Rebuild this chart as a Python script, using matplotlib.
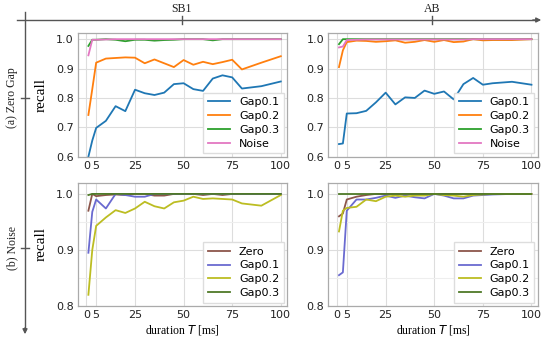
import matplotlib
matplotlib.use("Agg")
import matplotlib.pyplot as plt
from matplotlib.lines import Line2D
from matplotlib.ticker import MultipleLocator

# ---------------- data ----------------
durations = [1, 3, 5, 10, 15, 20, 25, 30, 35, 40, 45, 50, 55, 60, 65, 70, 75, 80, 90, 100]
xticks = [0, 5, 25, 50, 75, 100]
columns = ["SB1", "AB"]
rows = ["(a) Zero Gap", "(b) Noise"]

# (a) Zero Gap, SB1
sb1_zero_gap01 = [0.600, 0.655, 0.698, 0.722, 0.772, 0.755, 0.828, 0.816, 0.810, 0.818,
                  0.847, 0.850, 0.830, 0.824, 0.866, 0.877, 0.870, 0.832, 0.840, 0.856]
sb1_zero_gap02 = [0.742, 0.830, 0.920, 0.934, 0.936, 0.938, 0.937, 0.918, 0.931, 0.918,
                  0.905, 0.929, 0.913, 0.923, 0.915, 0.922, 0.930, 0.897, 0.920, 0.942]
sb1_zero_gap03 = [0.977, 0.998, 0.998, 1.000, 0.998, 0.993, 0.998, 0.998, 0.995, 0.997,
                  0.998, 1.000, 1.000, 1.000, 0.996, 1.000, 1.000, 1.000, 1.000, 1.000]
sb1_zero_noise = [0.945, 0.998, 0.998, 0.999, 1.000, 1.000, 1.000, 1.000, 1.000, 1.000,
                  1.000, 1.000, 1.000, 1.000, 1.000, 1.000, 1.000, 1.000, 1.000, 1.000]

# (a) Zero Gap, AB
ab_zero_gap01 = [0.643, 0.645, 0.747, 0.748, 0.756, 0.785, 0.818, 0.778, 0.802, 0.800,
                 0.825, 0.814, 0.822, 0.795, 0.847, 0.868, 0.845, 0.850, 0.855, 0.845]
ab_zero_gap02 = [0.905, 0.962, 0.990, 0.995, 0.994, 0.991, 0.993, 0.996, 0.988, 0.991,
                 0.997, 0.991, 0.997, 0.990, 0.992, 1.000, 0.996, 0.997, 0.997, 1.000]
ab_zero_gap03 = [0.983, 1.000, 1.000, 1.000, 1.000, 1.000, 1.000, 1.000, 1.000, 1.000,
                 1.000, 1.000, 1.000, 1.000, 1.000, 1.000, 1.000, 1.000, 1.000, 1.000]
ab_zero_noise = [0.972, 0.975, 0.997, 0.998, 0.999, 0.999, 0.999, 0.999, 0.999, 0.999,
                 0.999, 0.999, 0.999, 0.999, 0.999, 1.000, 1.000, 1.000, 1.000, 1.000]

# (b) Noise, SB1
sb1_noise_zero = [0.970, 1.000, 0.996, 0.998, 0.999, 0.998, 1.000, 1.000, 0.997, 0.997,
                  1.000, 1.000, 1.000, 0.998, 1.000, 0.998, 1.000, 1.000, 1.000, 1.000]
sb1_noise_gap01 = [0.895, 0.968, 0.990, 0.974, 1.000, 0.998, 0.995, 0.995, 1.000, 1.000,
                   1.000, 1.000, 1.000, 1.000, 1.000, 1.000, 1.000, 1.000, 1.000, 1.000]
sb1_noise_gap02 = [0.820, 0.900, 0.943, 0.958, 0.971, 0.966, 0.974, 0.986, 0.978, 0.974,
                   0.985, 0.988, 0.995, 0.991, 0.992, 0.991, 0.990, 0.983, 0.979, 0.998]
sb1_noise_gap03 = [0.998, 1.000, 1.000, 1.000, 1.000, 1.000, 1.000, 1.000, 1.000, 1.000,
                   1.000, 1.000, 1.000, 1.000, 1.000, 1.000, 1.000, 1.000, 1.000, 1.000]

# (b) Noise, AB
ab_noise_zero = [0.960, 0.965, 0.990, 0.995, 0.998, 1.000, 1.000, 1.000, 1.000, 1.000,
                 1.000, 1.000, 1.000, 1.000, 1.000, 1.000, 1.000, 1.000, 1.000, 1.000]
ab_noise_gap01 = [0.855, 0.860, 0.970, 0.990, 0.990, 0.993, 0.997, 0.993, 0.997, 0.994,
                  0.992, 1.000, 0.997, 0.992, 0.992, 0.997, 0.998, 0.999, 1.000, 1.000]
ab_noise_gap02 = [0.933, 0.970, 0.975, 0.977, 0.990, 0.987, 0.995, 0.997, 0.995, 0.997,
                  0.997, 1.000, 0.998, 0.997, 0.995, 0.998, 0.999, 1.000, 1.000, 1.000]
ab_noise_gap03 = [1.000, 1.000, 1.000, 1.000, 1.000, 1.000, 1.000, 1.000, 1.000, 1.000,
                  1.000, 1.000, 1.000, 1.000, 1.000, 1.000, 1.000, 1.000, 1.000, 1.000]

top_labels = ["Gap0.1", "Gap0.2", "Gap0.3", "Noise"]
top_colors = ["#1f77b4", "#ff7f0e", "#2ca02c", "#e377c2"]
bot_labels = ["Zero", "Gap0.1", "Gap0.2", "Gap0.3"]
bot_colors = ["#8c564b", "#6a6ad0", "#bcbd22", "#4f7a28"]

panels = {
    (0, 0): [sb1_zero_gap01, sb1_zero_gap02, sb1_zero_gap03, sb1_zero_noise],
    (0, 1): [ab_zero_gap01, ab_zero_gap02, ab_zero_gap03, ab_zero_noise],
    (1, 0): [sb1_noise_zero, sb1_noise_gap01, sb1_noise_gap02, sb1_noise_gap03],
    (1, 1): [ab_noise_zero, ab_noise_gap01, ab_noise_gap02, ab_noise_gap03],
}

# ---------------- figure ----------------
W, H = 550, 340
fig = plt.figure(figsize=(5.5, 3.4), dpi=100)

def px_axes(l, t, r, b):
    return fig.add_axes([l / W, 1 - b / H, (r - l) / W, (b - t) / H])

col_x = [(77.7, 287.0), (328.3, 537.7)]
row_y = [(33.3, 156.7), (182.7, 306.0)]

serif = ["Liberation Serif", "DejaVu Serif"]

for (r, c), series in panels.items():
    ax = px_axes(col_x[c][0], row_y[r][0], col_x[c][1], row_y[r][1])
    labels = top_labels if r == 0 else bot_labels
    colors = top_colors if r == 0 else bot_colors
    for vals, lab, col in zip(series, labels, colors):
        ax.plot(durations, vals, color=col, lw=1.3, label=lab)
    ax.set_xlim(-4.5, 103.2)
    if r == 0:
        ax.set_ylim(0.6, 1.02)
        ax.yaxis.set_major_locator(MultipleLocator(0.1))
    else:
        ax.set_ylim(0.8, 1.02)
        ax.yaxis.set_major_locator(MultipleLocator(0.1))
        ax.yaxis.set_minor_locator(MultipleLocator(0.05))
        ax.grid(True, which="minor", axis="y", color="#eeeeee", lw=0.8)
        ax.set_xlabel("duration $T$ [ms]", family=serif, fontsize=8.5, labelpad=2)
    ax.set_xticks(xticks)
    ax.set_yticks(ax.get_yticks())
    ax.set_yticklabels([f"{v:.1f}" for v in ax.get_yticks()])
    ax.set_ylim(0.6 if r == 0 else 0.8, 1.02)
    ax.grid(True, which="major", color="#dddddd", lw=0.8)
    ax.set_axisbelow(True)
    ax.tick_params(which="both", length=0, labelsize=8, pad=3, colors="#222222")
    for s in ax.spines.values():
        s.set_color("#aaaaaa")
        s.set_linewidth(0.9)
    if c == 0:
        ax.set_ylabel("recall", family=serif, fontsize=11, labelpad=6)
    ax.legend(loc="lower right", fontsize=8, frameon=True, fancybox=False,
              edgecolor="#dddddd", framealpha=1, handlelength=2.0,
              borderpad=0.4, labelspacing=0.35, handletextpad=0.8,
              borderaxespad=0.3)

# ---------------- outer annotation axes ----------------
fp = "figure pixels"
# horizontal arrow axis at top
fig.add_artist(Line2D([17 / W, 536 / W], [1 - 20 / H, 1 - 20 / H],
                      transform=fig.transFigure, color="#555555", lw=1.0))
fig.patches  # noqa
ann = fig.add_artist(plt.Annotation("", xy=(544, H - 20), xytext=(530, H - 20),
                                    xycoords=fp, textcoords=fp,
                                    arrowprops=dict(arrowstyle="-|>", color="#555555",
                                                    lw=1.0, mutation_scale=7)))
# vertical arrow axis at left
fig.add_artist(Line2D([25 / W, 25 / W], [1 - 12 / H, 1 - 330 / H],
                      transform=fig.transFigure, color="#555555", lw=1.0))
fig.add_artist(plt.Annotation("", xy=(25, H - 337), xytext=(25, H - 325),
                              xycoords=fp, textcoords=fp,
                              arrowprops=dict(arrowstyle="-|>", color="#555555",
                                              lw=1.0, mutation_scale=7)))
# ticks + labels
col_centers = [181.5, 432.0]
row_centers = [98.0, 247.5]
for cx, name in zip(col_centers, columns):
    fig.add_artist(Line2D([cx / W, cx / W], [1 - 16 / H, 1 - 24 / H],
                          transform=fig.transFigure, color="#555555", lw=1.0))
    fig.text(cx / W, 1 - 9.5 / H, name, ha="center", va="center",
             family=serif, fontsize=8.5, color="#222222")
for cy, name in zip(row_centers, rows):
    fig.add_artist(Line2D([21 / W, 29 / W], [1 - cy / H, 1 - cy / H],
                          transform=fig.transFigure, color="#555555", lw=1.0))
    fig.text(12 / W, 1 - cy / H, name, ha="center", va="center", rotation=90,
             family=serif, fontsize=8.5, color="#222222")

fig.savefig("out.png", dpi=100)
